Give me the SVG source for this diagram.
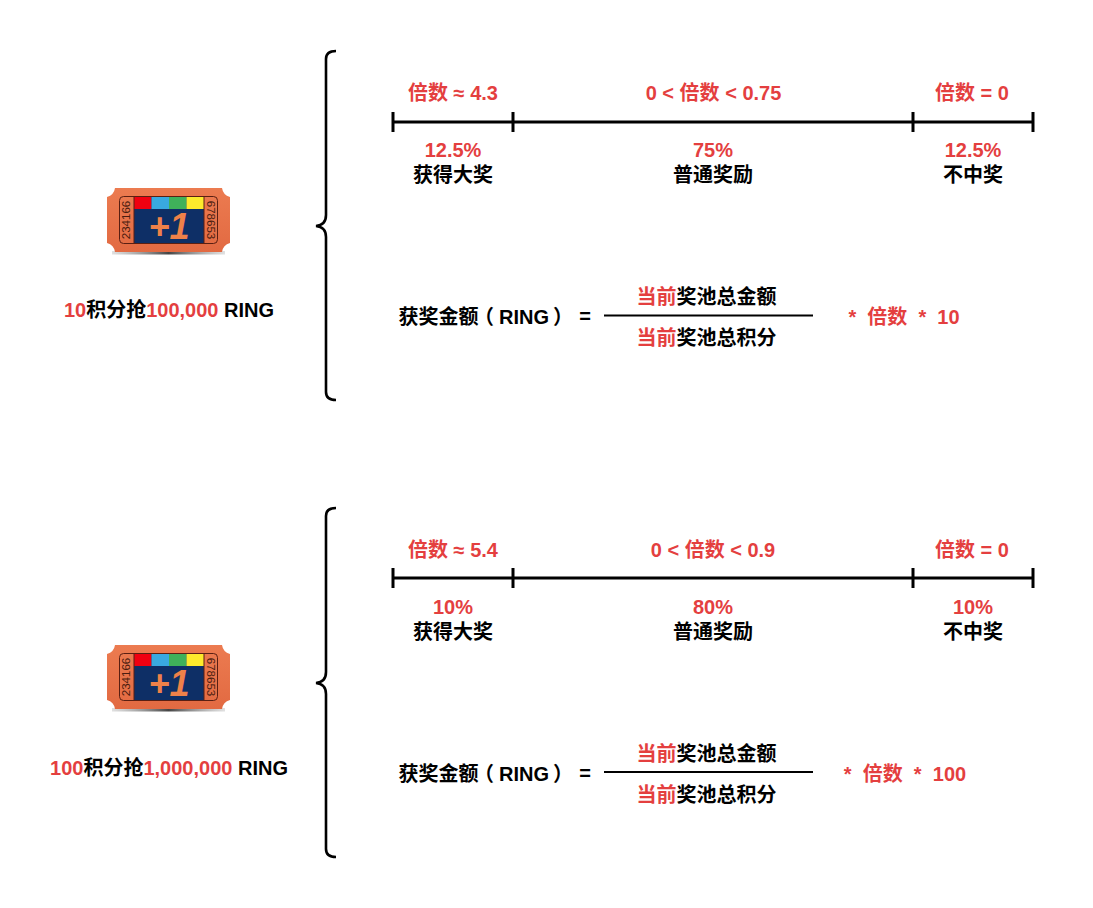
<svg xmlns="http://www.w3.org/2000/svg" xmlns:xlink="http://www.w3.org/1999/xlink" width="1093" height="908" viewBox="0 0 1093 908">
<style>
text{font-family:"Liberation Sans","Noto Sans CJK SC",sans-serif;font-size:20px;font-weight:700;fill:#000;text-anchor:middle}
.r,tspan.r{fill:#e43f3f}
.ln{fill:none;stroke:#000;stroke-width:3}
.br{fill:none;stroke:#000;stroke-width:2.6}
.fr{fill:none;stroke:#000;stroke-width:2}
text.serial{font-size:11.5px;font-weight:400;fill:#4a1c10}
text.plus{font-size:36px;font-style:italic;fill:#ee8149}
text.st{text-anchor:start}
</style>
<defs>
<linearGradient id="sh" x1="0" x2="1" y1="0" y2="0"><stop offset="0" stop-color="#999" stop-opacity=".3"/><stop offset=".5" stop-color="#444"/><stop offset="1" stop-color="#999" stop-opacity=".3"/></linearGradient>
<linearGradient id="body" x1="0" x2="0" y1="0" y2="1"><stop offset="0" stop-color="#ec7b50"/><stop offset="1" stop-color="#e26a42"/></linearGradient>
<g id="ticket">
<rect x="112" y="251" width="113" height="3.500" fill="url(#sh)"/>
<path d="M115 188H222Q223 195 230 197V243Q223 245 222 252H115Q114 245 107 243V197Q114 195 115 188Z" fill="url(#body)"/>
<rect x="134" y="197" width="70" height="46" fill="#0e2f66"/>
<rect x="134" y="197" width="17.500" height="12" fill="#f00010"/>
<rect x="151.500" y="197" width="17.500" height="12" fill="#39a9e0"/>
<rect x="169" y="197" width="17.500" height="12" fill="#3fb15a"/>
<rect x="186.500" y="197" width="17.500" height="12" fill="#fdea2c"/>
<rect x="119.500" y="196.500" width="98" height="47" rx="4" fill="none" stroke="#5a1f12" stroke-width="1"/>
<path d="M134 197V243M204 197V243" stroke="#5a1f12" stroke-width="1"/>
<text class="plus" x="169" y="239">+1</text>
<text class="serial" transform="translate(130 220) rotate(-90)">234166</text>
<text class="serial" transform="translate(207 220) rotate(90)">678653</text>
</g>
<path id="brace" class="br" d="M336 51Q326 51 326 59V215Q326 225 316 226Q326 227 326 237V392Q326 400 336 400"/>
<g id="scale">
<path class="ln" d="M393 122H1033M393 112V132M513 112V132M913 112V132M1033 112V132"/>
</g>
</defs>

<g id="connectors">
<use id="brace-1" xlink:href="#brace" href="#brace"/>
<use id="brace-2" xlink:href="#brace" href="#brace" y="457"/>
<use id="scale-1" xlink:href="#scale" href="#scale"/>
<use id="scale-2" xlink:href="#scale" href="#scale" y="456"/>
<path class="fr" d="M604 315.500H813M604 772H813"/>
</g>

<g id="ticket-1">
<use xlink:href="#ticket" href="#ticket"/>
<text x="169" y="317"><tspan class="r">10</tspan>积分抢<tspan class="r">100,000</tspan> RING</text>
</g>
<g id="ticket-2">
<use xlink:href="#ticket" href="#ticket" y="457"/>
<text x="169" y="774.500"><tspan class="r">100</tspan>积分抢<tspan class="r">1,000,000</tspan> RING</text>
</g>

<g id="row-1">
<text class="r" x="453" y="99.500">倍数 ≈ 4.3</text>
<text class="r" x="713.500" y="99.500">0 &lt; 倍数 &lt; 0.75</text>
<text class="r" x="972" y="99.500">倍数 = 0</text>
<text class="r" x="453" y="157">12.5%</text>
<text x="453" y="182">获得大奖</text>
<text class="r" x="713" y="157">75%</text>
<text x="713" y="182">普通奖励</text>
<text class="r" x="973" y="157">12.5%</text>
<text x="973" y="182">不中奖</text>
</g>
<g id="formula-1">
<text class="st" y="323.500" x="398.500 418.500 438.500 458.500 474 493 499 513.440 519 533.440 549 553" xml:space="preserve">获奖金额（ RING ）</text>
<text x="585" y="323">=</text>
<text x="706.500" y="304"><tspan class="r">当前</tspan>奖池总金额</text>
<text x="706.500" y="345"><tspan class="r">当前</tspan>奖池总积分</text>
<text class="r" x="904" y="323.500" xml:space="preserve">*  倍数  *  10</text>
</g>

<g id="row-2">
<text class="r" x="453" y="556.500">倍数 ≈ 5.4</text>
<text class="r" x="713" y="556.500">0 &lt; 倍数 &lt; 0.9</text>
<text class="r" x="972" y="556.500">倍数 = 0</text>
<text class="r" x="453" y="613.500">10%</text>
<text x="453" y="638.500">获得大奖</text>
<text class="r" x="713" y="613.500">80%</text>
<text x="713" y="638.500">普通奖励</text>
<text class="r" x="973" y="613.500">10%</text>
<text x="973" y="638.500">不中奖</text>
</g>
<g id="formula-2">
<text class="st" y="780.500" x="398.500 418.500 438.500 458.500 474 493 499 513.440 519 533.440 549 553" xml:space="preserve">获奖金额（ RING ）</text>
<text x="585" y="780">=</text>
<text x="706.500" y="761"><tspan class="r">当前</tspan>奖池总金额</text>
<text x="706.500" y="802"><tspan class="r">当前</tspan>奖池总积分</text>
<text class="r" x="905" y="780.500" xml:space="preserve">*  倍数  *  100</text>
</g>
</svg>
